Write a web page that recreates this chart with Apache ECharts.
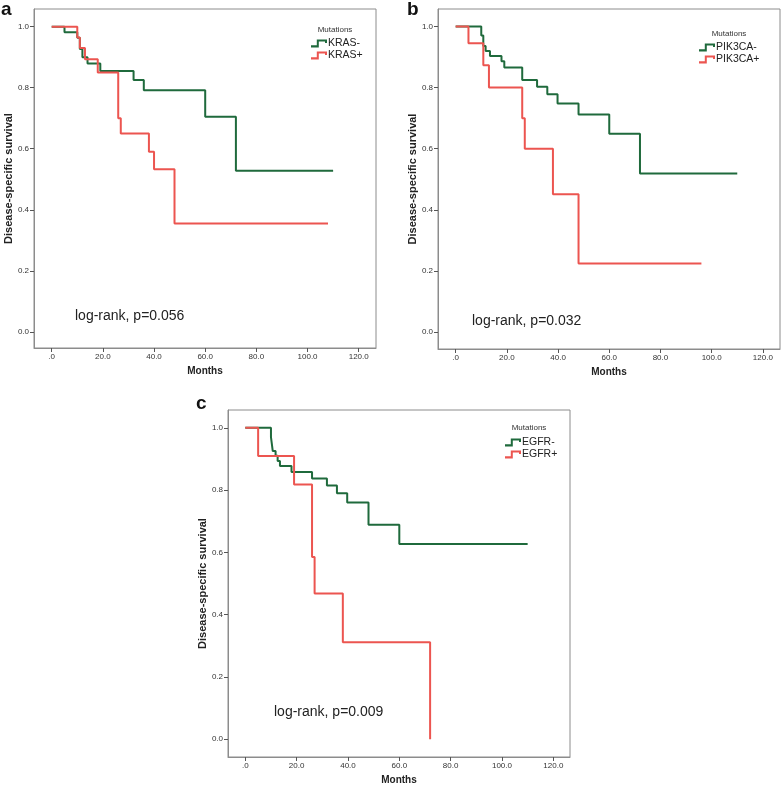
<!DOCTYPE html>
<html>
<head>
<meta charset="utf-8">
<script src="https://cdn.jsdelivr.net/npm/echarts@6/dist/echarts.min.js"></script>
<style>html,body{margin:0;padding:0;background:#fff;}#c{width:784px;height:786px;}</style>
</head>
<body>
<div id="c"></div>
<script>
// ---- data ----
const panelLetters = ['a', 'b', 'c'];
const pValues = ['log-rank, p=0.056', 'log-rank, p=0.032', 'log-rank, p=0.009'];
const legendTitle = 'Mutations';
const xTicks = [0, 20, 40, 60, 80, 100, 120];
const yTicks = [0, 0.2, 0.4, 0.6, 0.8, 1.0];
const xName = 'Months';
const yName = 'Disease-specific survival';

const krasNegName = 'KRAS-';
const krasNeg = [[0,1],[5,0.982],[10,0.964],[11,0.927],[12,0.90],[14,0.879],[19,0.855],[32,0.825],[36,0.792],[60,0.705],[72,0.528],[110,0.528]];
const krasPosName = 'KRAS+';
const krasPos = [[0,1],[10,0.965],[11,0.93],[13,0.893],[18,0.85],[26,0.70],[27,0.65],[38,0.59],[40,0.533],[48,0.355],[108,0.355]];

const pikNegName = 'PIK3CA-';
const pikNeg = [[0,1],[10,0.970],[10.8,0.936],[11.7,0.920],[13.4,0.903],[17.9,0.886],[19,0.866],[26,0.825],[31.8,0.803],[35.8,0.778],[39.8,0.748],[48,0.712],[60,0.649],[72,0.519],[110,0.519]];
const pikPosName = 'PIK3CA+';
const pikPos = [[0,1],[5,0.945],[10.8,0.873],[13,0.80],[26,0.70],[27,0.60],[38,0.451],[48,0.225],[96,0.225]];

const egfrNegName = 'EGFR-';
const egfrNeg = [[0,1],[10,0.970],[10.7,0.925],[11.8,0.910],[12.6,0.893],[13.5,0.877],[18,0.858],[26,0.837],[31.8,0.815],[35.7,0.790],[39.7,0.760],[48,0.689],[60,0.627],[110,0.627]];
const egfrPosName = 'EGFR+';
const egfrPos = [[0,1],[5,0.909],[19,0.818],[26,0.585],[27,0.468],[38,0.311],[72,0.311],[72,0]];

// ---- styling/layout ----
const GREEN = '#1f6a3c';
const RED = '#ec5550';
const FRAME = '#8c8c8c';
const FONT = '"Liberation Sans", Arial, sans-serif';

const grids = [
  {left: 34, top: 9, width: 342, height: 339},
  {left: 438, top: 9, width: 342, height: 340},
  {left: 228, top: 410, width: 342, height: 347}
];
const xRanges = [[-6.92, 126.76], [-6.9, 126.7], [-6.74, 126.5]];
const yRanges = [[-0.053, 1.058], [-0.055, 1.057], [-0.057, 1.057]];

const series = [
  [krasNegName, krasNeg, GREEN], [krasPosName, krasPos, RED],
  [pikNegName, pikNeg, GREEN], [pikPosName, pikPos, RED],
  [egfrNegName, egfrNeg, GREEN], [egfrPosName, egfrPos, RED]
];

const legendIcon = 'path://M0,5.8 L5.8,5.8 L5.8,0 L16,0 L16,3.5 L14,3.5 L14,2 L7.8,2 L7.8,8 L0,8 Z';
const legendPos = [{left: 311, top: 38}, {left: 699, top: 42}, {left: 505, top: 437}];
const legendTitlePos = [{x: 335, y: 30}, {x: 729, y: 34}, {x: 529, y: 428}];
const letterPos = [{left: 1, top: 0}, {left: 407, top: 0}, {left: 196, top: 394}];
const pPos = [{left: 75, top: 309}, {left: 472, top: 314}, {left: 274, top: 705}];

const option = {
  animation: false,
  backgroundColor: '#fff',
  textStyle: {fontFamily: FONT},
  grid: grids.map(g => Object.assign({show: true, borderColor: FRAME, borderWidth: 1, backgroundColor: 'transparent'}, g)),
  xAxis: grids.map((g, i) => ({
    type: 'value', gridIndex: i, min: xRanges[i][0], max: xRanges[i][1],
    name: xName, nameLocation: 'middle', nameGap: 18,
    nameTextStyle: {fontFamily: FONT, fontSize: 10, fontWeight: 'bold', color: '#222'},
    axisLine: {show: true, onZero: false, lineStyle: {color: FRAME, width: 1}},
    axisTick: {show: true, length: 4, lineStyle: {color: '#555'}, customValues: xTicks},
    axisLabel: {show: true, fontSize: 8, color: '#333', margin: 5, customValues: xTicks,
      formatter: v => v === 0 ? '.0' : v.toFixed(1)},
    splitLine: {show: false}
  })),
  yAxis: grids.map((g, i) => ({
    type: 'value', gridIndex: i, min: yRanges[i][0], max: yRanges[i][1],
    name: yName, nameLocation: 'middle', nameGap: 20,
    nameTextStyle: {fontFamily: FONT, fontSize: 11, fontWeight: 'bold', color: '#222'},
    axisLine: {show: true, onZero: false, lineStyle: {color: FRAME, width: 1}},
    axisTick: {show: true, length: 4, lineStyle: {color: '#555'}, customValues: yTicks},
    axisLabel: {show: true, fontSize: 8, color: '#333', margin: 5, customValues: yTicks,
      formatter: v => v.toFixed(1)},
    splitLine: {show: false}
  })),
  legend: [0, 1, 2].map(i => ({
    orient: 'vertical', left: legendPos[i].left, top: legendPos[i].top,
    data: [series[2 * i][0], series[2 * i + 1][0]],
    icon: legendIcon, itemWidth: 16, itemHeight: 8, itemGap: 1,
    textStyle: {fontFamily: FONT, fontSize: 10.5, color: '#222', padding: [0, 0, 0, -4], lineHeight: 11},
    padding: 0
  })),
  title: [].concat(
    panelLetters.map((t, i) => ({text: t, left: letterPos[i].left, top: letterPos[i].top, padding: 0,
      textStyle: {fontFamily: FONT, fontSize: 19, fontWeight: 'bold', color: '#111'}})),
    pValues.map((t, i) => ({text: t, left: pPos[i].left, top: pPos[i].top, padding: 0,
      textStyle: {fontFamily: FONT, fontSize: 14, fontWeight: 'normal', color: '#222'}}))
  ),
  graphic: legendTitlePos.map(p => ({
    type: 'text', x: p.x, y: p.y,
    style: {text: legendTitle, fill: '#333', font: '8px ' + FONT, textAlign: 'center', textVerticalAlign: 'middle'}
  })),
  series: series.map((s, k) => ({
    name: s[0], type: 'line', step: 'end', xAxisIndex: Math.floor(k / 2), yAxisIndex: Math.floor(k / 2),
    data: s[1], showSymbol: false, symbol: 'none', color: s[2],
    lineStyle: {color: s[2], width: 2}, itemStyle: {color: s[2]}
  }))
};

const chart = echarts.init(document.getElementById('c'), null, {renderer: 'canvas'});
chart.setOption(option);
</script>
</body>
</html>
